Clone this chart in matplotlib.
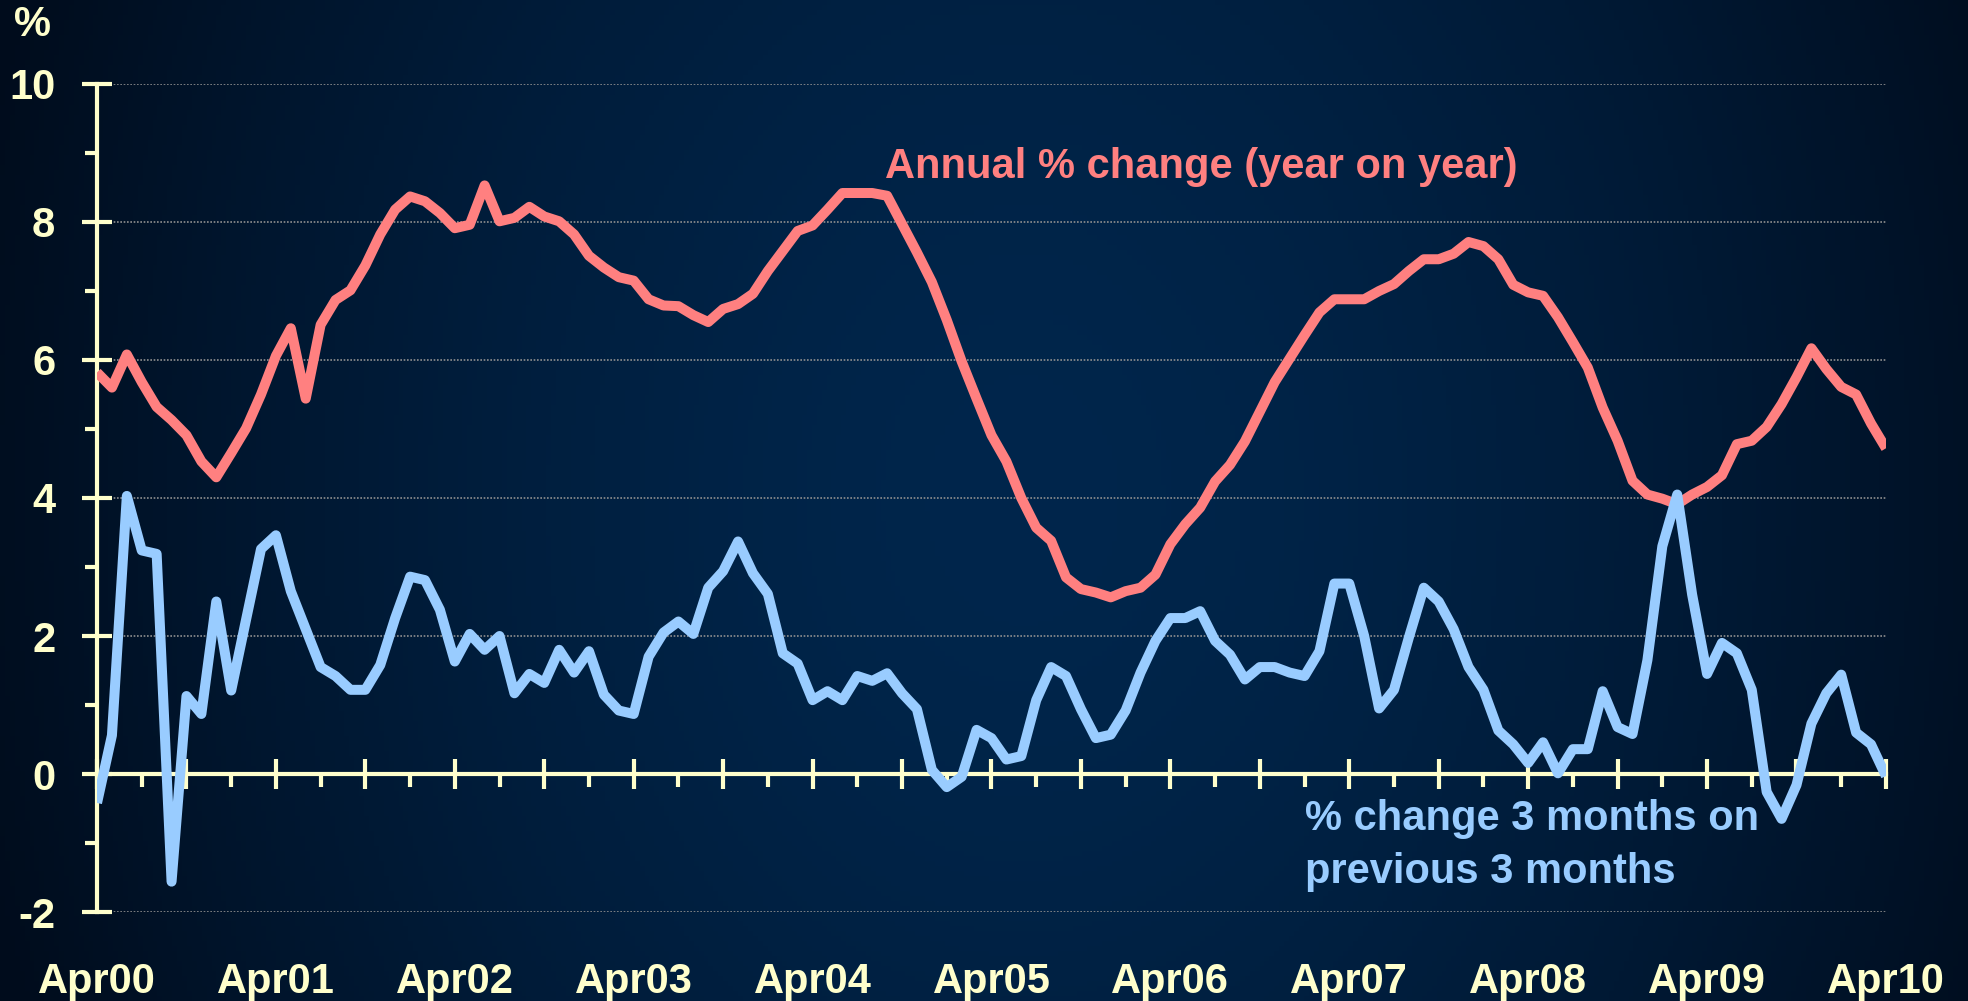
import numpy as np
import matplotlib
matplotlib.use("Agg")
import matplotlib.pyplot as plt
from matplotlib.ticker import MultipleLocator

# ---- data (monthly, Apr 2000 .. Apr 2010) ----
months = np.arange(121)
annual_change = [5.82, 5.6, 6.08, 5.68, 5.32, 5.13, 4.91, 4.53, 4.3, 4.65,
                 5.01, 5.5, 6.06, 6.46, 5.44, 6.51, 6.87, 7.01, 7.37, 7.82,
                 8.18, 8.37, 8.3, 8.13, 7.91, 7.96, 8.53, 8.01, 8.06, 8.22,
                 8.08, 8.01, 7.82, 7.51, 7.34, 7.2, 7.15, 6.88, 6.79, 6.78,
                 6.65, 6.55, 6.74, 6.81, 6.96, 7.29, 7.58, 7.87, 7.95, 8.18,
                 8.42, 8.42, 8.42, 8.38, 7.97, 7.56, 7.13, 6.58, 5.98, 5.44,
                 4.91, 4.53, 4.0, 3.57, 3.38, 2.85, 2.68, 2.63, 2.56, 2.65,
                 2.7, 2.89, 3.33, 3.62, 3.86, 4.24, 4.48, 4.82, 5.25, 5.68,
                 6.02, 6.36, 6.69, 6.88, 6.88, 6.88, 7.0, 7.1, 7.29, 7.46,
                 7.46, 7.54, 7.71, 7.65, 7.46, 7.09, 6.98, 6.93, 6.62, 6.26,
                 5.89, 5.31, 4.83, 4.25, 4.05, 3.99, 3.91, 4.05, 4.16, 4.33,
                 4.78, 4.83, 5.03, 5.36, 5.75, 6.17, 5.87, 5.61, 5.5, 5.08,
                 4.72]
three_month_change = [-0.42, 0.56, 4.03, 3.24, 3.19, -1.56, 1.13, 0.87, 2.5, 1.21,
                      2.24, 3.26, 3.46, 2.65, 2.1, 1.55, 1.42, 1.22, 1.22, 1.58,
                      2.26, 2.86, 2.81, 2.38, 1.63, 2.03, 1.8, 2.0, 1.17, 1.45,
                      1.32, 1.8, 1.47, 1.78, 1.15, 0.92, 0.87, 1.7, 2.05, 2.21,
                      2.03, 2.7, 2.94, 3.37, 2.91, 2.61, 1.75, 1.6, 1.07, 1.2,
                      1.07, 1.42, 1.35, 1.46, 1.17, 0.94, 0.06, -0.19, -0.04, 0.64,
                      0.52, 0.21, 0.26, 1.07, 1.55, 1.42, 0.94, 0.52, 0.57, 0.92,
                      1.47, 1.93, 2.26, 2.26, 2.36, 1.93, 1.73, 1.37, 1.55, 1.55,
                      1.47, 1.42, 1.78, 2.76, 2.76, 2.0, 0.95, 1.22, 1.98, 2.7,
                      2.5, 2.1, 1.55, 1.22, 0.63, 0.43, 0.16, 0.46, 0.01, 0.36,
                      0.36, 1.2, 0.68, 0.58, 1.65, 3.3, 4.05, 2.6, 1.45, 1.9,
                      1.75, 1.22, -0.26, -0.65, -0.16, 0.73, 1.17, 1.44, 0.6, 0.43,
                      -0.03]
tick_labels = ["Apr00", "Apr01", "Apr02", "Apr03", "Apr04", "Apr05",
               "Apr06", "Apr07", "Apr08", "Apr09", "Apr10"]
label_months = months[::12]

# ---- style ----
AXIS_COL = "#FFFFCC"
RED = "#FF8080"
BLUE = "#99CCFF"
FS = 30
plt.rcParams["font.family"] = ["Liberation Sans", "DejaVu Sans"]
plt.rcParams["font.weight"] = "bold"
plt.rcParams["axes.unicode_minus"] = False

fig = plt.figure(figsize=(19.68, 10.01), dpi=100)

# background gradient
bg = fig.add_axes([0, 0, 1, 1])
bg.axis("off")
gx, gy = np.meshgrid(np.linspace(0, 1, 400), np.linspace(0, 1, 200))
t = np.clip(np.sqrt(((gx - 0.52) / 0.55) ** 2 + ((gy - 0.5) / 1.4) ** 2), 0, 1) ** 1.6
c0 = np.array([0, 38, 76]) / 255.0
c1 = np.array([0, 12, 28]) / 255.0
img = c0[None, None, :] * (1 - t[..., None]) + c1[None, None, :] * t[..., None]
bg.imshow(img, extent=[0, 1, 0, 1], aspect="auto", zorder=0)
bg.set_xlim(0, 1)
bg.set_ylim(0, 1)

ax = fig.add_axes([0.0493, 0.0889, 0.909, 0.8272])
ax.patch.set_alpha(0)
ax.set_xlim(0, 120)
ax.set_ylim(-2, 10)

ax.plot(months, annual_change, color=RED, lw=7.2, solid_joinstyle="round",
        solid_capstyle="butt", zorder=4)
ax.plot(months, three_month_change, color=BLUE, lw=7.2, solid_joinstyle="round",
        solid_capstyle="butt", zorder=4)

for s in ("top", "right"):
    ax.spines[s].set_visible(False)
ax.spines["bottom"].set_position(("data", 0))
for s in ("left", "bottom"):
    ax.spines[s].set_color(AXIS_COL)
    ax.spines[s].set_linewidth(3)
    ax.spines[s].set_zorder(3)

ax.yaxis.set_major_locator(MultipleLocator(2))
ax.yaxis.set_minor_locator(MultipleLocator(1))
ax.xaxis.set_major_locator(MultipleLocator(6))
ax.xaxis.set_minor_locator(MultipleLocator(3))
ax.tick_params(axis="y", which="major", direction="inout", length=21, width=3,
               color=AXIS_COL, labelcolor=AXIS_COL, labelsize=FS, pad=19.5)
ax.tick_params(axis="y", which="minor", direction="out", length=9, width=3,
               color=AXIS_COL)
ax.tick_params(axis="x", which="major", direction="inout", length=21, width=3,
               color=AXIS_COL, labelbottom=False)
ax.tick_params(axis="x", which="minor", direction="out", length=9, width=3,
               color=AXIS_COL)
for lab in ax.get_yticklabels():
    lab.set_fontweight("bold")

ax.grid(axis="y", which="major", color="#8f8f8f", linestyle=(0, (1, 1)),
        linewidth=1.2, zorder=1)
ax.set_axisbelow(True)

sec = ax.secondary_xaxis("bottom")
sec.set_xticks(label_months, labels=tick_labels)
sec.spines["bottom"].set_visible(False)
sec.tick_params(axis="x", length=0, pad=36, labelsize=FS, labelcolor=AXIS_COL)
for lab in sec.get_xticklabels():
    lab.set_fontweight("bold")

fig.text(0.0163, 0.975, "%", color=AXIS_COL, fontsize=FS, fontweight="bold",
         ha="center", va="center")
fig.text(0.4497, 0.8222, "Annual % change (year on year)", color=RED,
         fontsize=FS, fontweight="bold", ha="left", va="baseline")
fig.text(0.6631, 0.1708, "% change 3 months on", color=BLUE,
         fontsize=FS, fontweight="bold", ha="left", va="baseline")
fig.text(0.6631, 0.1179, "previous 3 months", color=BLUE,
         fontsize=FS, fontweight="bold", ha="left", va="baseline")

fig.savefig("out.png", dpi=100)
